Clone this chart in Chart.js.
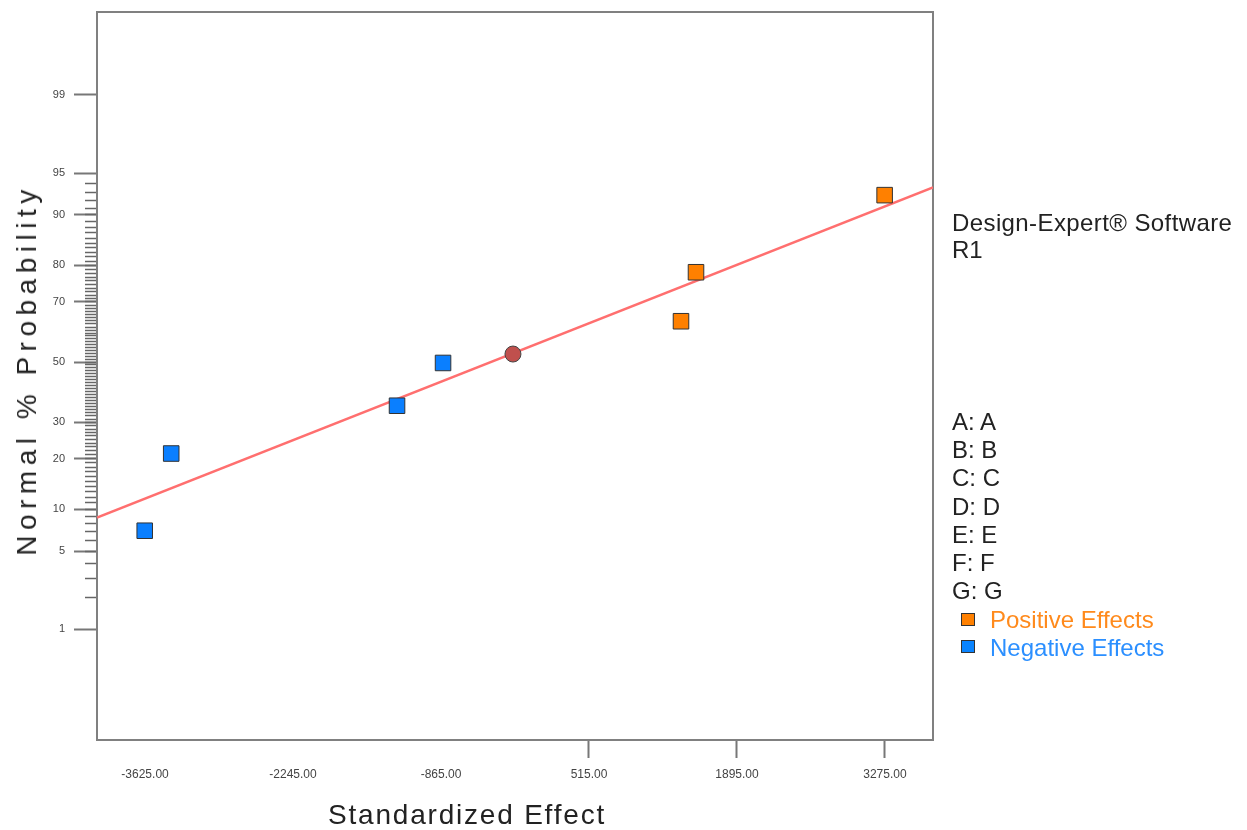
<!DOCTYPE html>
<html>
<head>
<meta charset="utf-8">
<script src="https://cdn.jsdelivr.net/npm/chart.js@4.4.1/dist/chart.umd.min.js"></script>
<style>
    body { margin: 0; background: #fff; font-family: "Liberation Sans", Arial, sans-serif; }
    #wrap { position: relative; width: 1247px; height: 830px; }
    .txt { position: absolute; white-space: nowrap; line-height: 1; }
    #yTitle { left: 27px; top: 370px; font-size: 28px; letter-spacing: 5.5px; color: #222;
        transform: translate(-50%, -50%) rotate(-90deg); }
    #xTitle { left: 467px; top: 815px; font-size: 28px; letter-spacing: 1.8px; color: #222;
        transform: translate(-50%, -50%); }
    .side { left: 952px; font-size: 24px; color: #222; }
    .sq { position: absolute; left: 961px; width: 12px; height: 11px; border: 1px solid #333; }
</style>
</head>
<body>
<div id="wrap">
    <canvas id="chart" width="1247" height="830"></canvas>
    <div class="txt" id="yTitle">Normal % Probability</div>
    <div class="txt" id="xTitle">Standardized Effect</div>
    <div class="txt side" style="top:211px; letter-spacing:0.4px">Design-Expert® Software</div>
    <div class="txt side" style="top:238px">R1</div>
    <div class="txt side" style="top:410px">A: A</div>
    <div class="txt side" style="top:438px">B: B</div>
    <div class="txt side" style="top:466px">C: C</div>
    <div class="txt side" style="top:495px">D: D</div>
    <div class="txt side" style="top:523px">E: E</div>
    <div class="txt side" style="top:551px">F: F</div>
    <div class="txt side" style="top:579px">G: G</div>
    <div class="sq" style="top:613px; background:#ff8000"></div>
    <div class="txt side" style="top:608px; left:990px; color:#ff8a1c">Positive Effects</div>
    <div class="sq" style="top:640px; background:#0a84ff"></div>
    <div class="txt side" style="top:636px; left:990px; color:#2b8fff">Negative Effects</div>
</div>
<script>
// effects (x = standardized effect, y = normal % probability)
const negX = [-3628, -3381, -1275, -846];
const negPct = [7.1, 21.3, 35.2, 49.7];
const posX = [1373, 1513, 3272];
const posPct = [63.9, 78.3, 92.7];
const midX = [-194];
const midPct = [52.8];
const fitX = [-4073, 3723];
const fitPct = [8.8, 93.6];

const xTicks = [-3625, -2245, -865, 515, 1895, 3275];
const xRange = [-4073, 3723];
const yRangePct = [0.05, 99.885];
const majorPct = [1, 5, 10, 20, 30, 50, 70, 80, 90, 95, 99];
const minorPct = [2, 3, 4, 5, 6, 7, 8, 9, 10, 11, 12, 13, 14, 15, 16, 17, 18, 19, 20,
    21, 22, 23, 24, 25, 26, 27, 28, 29, 30, 31, 32, 33, 34, 35, 36, 37, 38, 39, 40,
    41, 42, 43, 44, 45, 46, 47, 48, 49, 50, 51, 52, 53, 54, 55, 56, 57, 58, 59, 60,
    61, 62, 63, 64, 65, 66, 67, 68, 69, 70, 71, 72, 73, 74, 75, 76, 77, 78, 79, 80,
    81, 82, 83, 84, 85, 86, 87, 88, 89, 90, 91, 92, 93, 94];

// inverse normal cdf (Acklam), percent -> z
function probit(pct) {
    const p = pct / 100;
    const a = [-39.69683028665376, 220.9460984245205, -275.9285104469687, 138.3577518672690, -30.66479806614716, 2.506628277459239];
    const b = [-54.47609879822406, 161.5858368580409, -155.6989798598866, 66.80131188771972, -13.28068155288572];
    const c = [-0.007784894002430293, -0.3223964580411365, -2.400758277161838, -2.549732539343734, 4.374664141464968, 2.938163982698783];
    const d = [0.007784695709041462, 0.3224671290700398, 2.445134137142996, 3.754408661907416];
    const plow = 0.02425;
    let q, r;
    if (p < plow) {
        q = Math.sqrt(-2 * Math.log(p));
        return (((((c[0] * q + c[1]) * q + c[2]) * q + c[3]) * q + c[4]) * q + c[5]) /
            ((((d[0] * q + d[1]) * q + d[2]) * q + d[3]) * q + 1);
    }
    if (p > 1 - plow) {
        q = Math.sqrt(-2 * Math.log(1 - p));
        return -(((((c[0] * q + c[1]) * q + c[2]) * q + c[3]) * q + c[4]) * q + c[5]) /
            ((((d[0] * q + d[1]) * q + d[2]) * q + d[3]) * q + 1);
    }
    q = p - 0.5;
    r = q * q;
    return (((((a[0] * r + a[1]) * r + a[2]) * r + a[3]) * r + a[4]) * r + a[5]) * q /
        (((((b[0] * r + b[1]) * r + b[2]) * r + b[3]) * r + b[4]) * r + 1);
}

function toPoints(xs, pcts) {
    return xs.map((x, i) => ({ x: x, y: probit(pcts[i]) }));
}

const majorZ = majorPct.map(probit);
const labelByZ = {};
majorPct.forEach((p, i) => { labelByZ[majorZ[i].toFixed(5)] = String(p); });

// frame around the plot area
const framePlugin = {
    id: 'frame',
    beforeDatasetsDraw(chart) {
        const { ctx, chartArea: a } = chart;
        ctx.save();
        ctx.strokeStyle = '#808080';
        ctx.lineWidth = 2;
        ctx.strokeRect(a.left, a.top, a.right - a.left, a.bottom - a.top);
        ctx.restore();
    }
};

document.addEventListener("DOMContentLoaded", () => {
    const ctx = document.getElementById('chart').getContext('2d');
    new Chart(ctx, {
        type: 'scatter',
        data: {
            datasets: [{
                label: 'Fit',
                type: 'line',
                data: toPoints(fitX, fitPct),
                borderColor: '#ff6f6f',
                borderWidth: 2.5,
                pointRadius: 0,
                fill: false,
                order: 3
            }, {
                label: 'Negative Effects',
                data: toPoints(negX, negPct),
                pointStyle: 'rect',
                pointRadius: 11,
                backgroundColor: '#0a7fff',
                borderColor: '#333',
                borderWidth: 1,
                order: 1
            }, {
                label: 'Positive Effects',
                data: toPoints(posX, posPct),
                pointStyle: 'rect',
                pointRadius: 11,
                backgroundColor: '#ff8000',
                borderColor: '#333',
                borderWidth: 1,
                order: 1
            }, {
                label: 'Center',
                data: toPoints(midX, midPct),
                pointStyle: 'circle',
                pointRadius: 8,
                backgroundColor: '#c0504d',
                borderColor: '#444',
                borderWidth: 1,
                order: 1
            }]
        },
        options: {
            responsive: false,
            animation: false,
            layout: { padding: { left: 0, right: 314, top: 10, bottom: 0 } },
            plugins: { legend: { display: false }, tooltip: { enabled: false } },
            scales: {
                x: {
                    type: 'linear',
                    min: xRange[0],
                    max: xRange[1],
                    afterBuildTicks: (axis) => { axis.ticks = xTicks.map(v => ({ value: v })); },
                    afterFit: (axis) => { axis.height = 90; axis.paddingLeft = 0; axis.paddingRight = 0; },
                    border: { display: false },
                    grid: {
                        drawOnChartArea: false,
                        tickLength: 18,
                        tickWidth: 2,
                        tickColor: (c) => (c.tick && c.tick.value < 0) ? 'rgba(0,0,0,0)' : '#777'
                    },
                    ticks: {
                        autoSkip: false,
                        maxRotation: 0,
                        padding: 9,
                        color: '#444',
                        font: { family: 'Liberation Sans', size: 12 },
                        callback: (v) => v.toFixed(2)
                    }
                },
                y: {
                    type: 'linear',
                    position: 'left',
                    min: probit(yRangePct[0]),
                    max: probit(yRangePct[1]),
                    afterBuildTicks: (axis) => { axis.ticks = majorZ.map(v => ({ value: v })); },
                    afterFit: (axis) => { axis.width = 97; axis.paddingTop = 0; axis.paddingBottom = 0; },
                    border: { display: false },
                    grid: {
                        drawOnChartArea: false,
                        tickLength: 23,
                        tickWidth: 2,
                        tickColor: '#777'
                    },
                    ticks: {
                        autoSkip: false,
                        padding: 9,
                        color: '#444',
                        font: { family: 'Liberation Sans', size: 11 },
                        callback: (v) => labelByZ[Number(v).toFixed(5)] || ''
                    }
                },
                yMinor: {
                    type: 'linear',
                    position: { x: xRange[0] },
                    min: probit(yRangePct[0]),
                    max: probit(yRangePct[1]),
                    afterBuildTicks: (axis) => { axis.ticks = minorPct.map(p => ({ value: probit(p) })); },
                    afterFit: (axis) => { axis.paddingTop = 0; axis.paddingBottom = 0; },
                    border: { display: false },
                    grid: {
                        drawOnChartArea: false,
                        tickLength: 12,
                        tickWidth: 1.5,
                        tickColor: '#666'
                    },
                    ticks: { display: false, autoSkip: false }
                }
            }
        },
        plugins: [framePlugin]
    });
});
</script>
</body>
</html>
